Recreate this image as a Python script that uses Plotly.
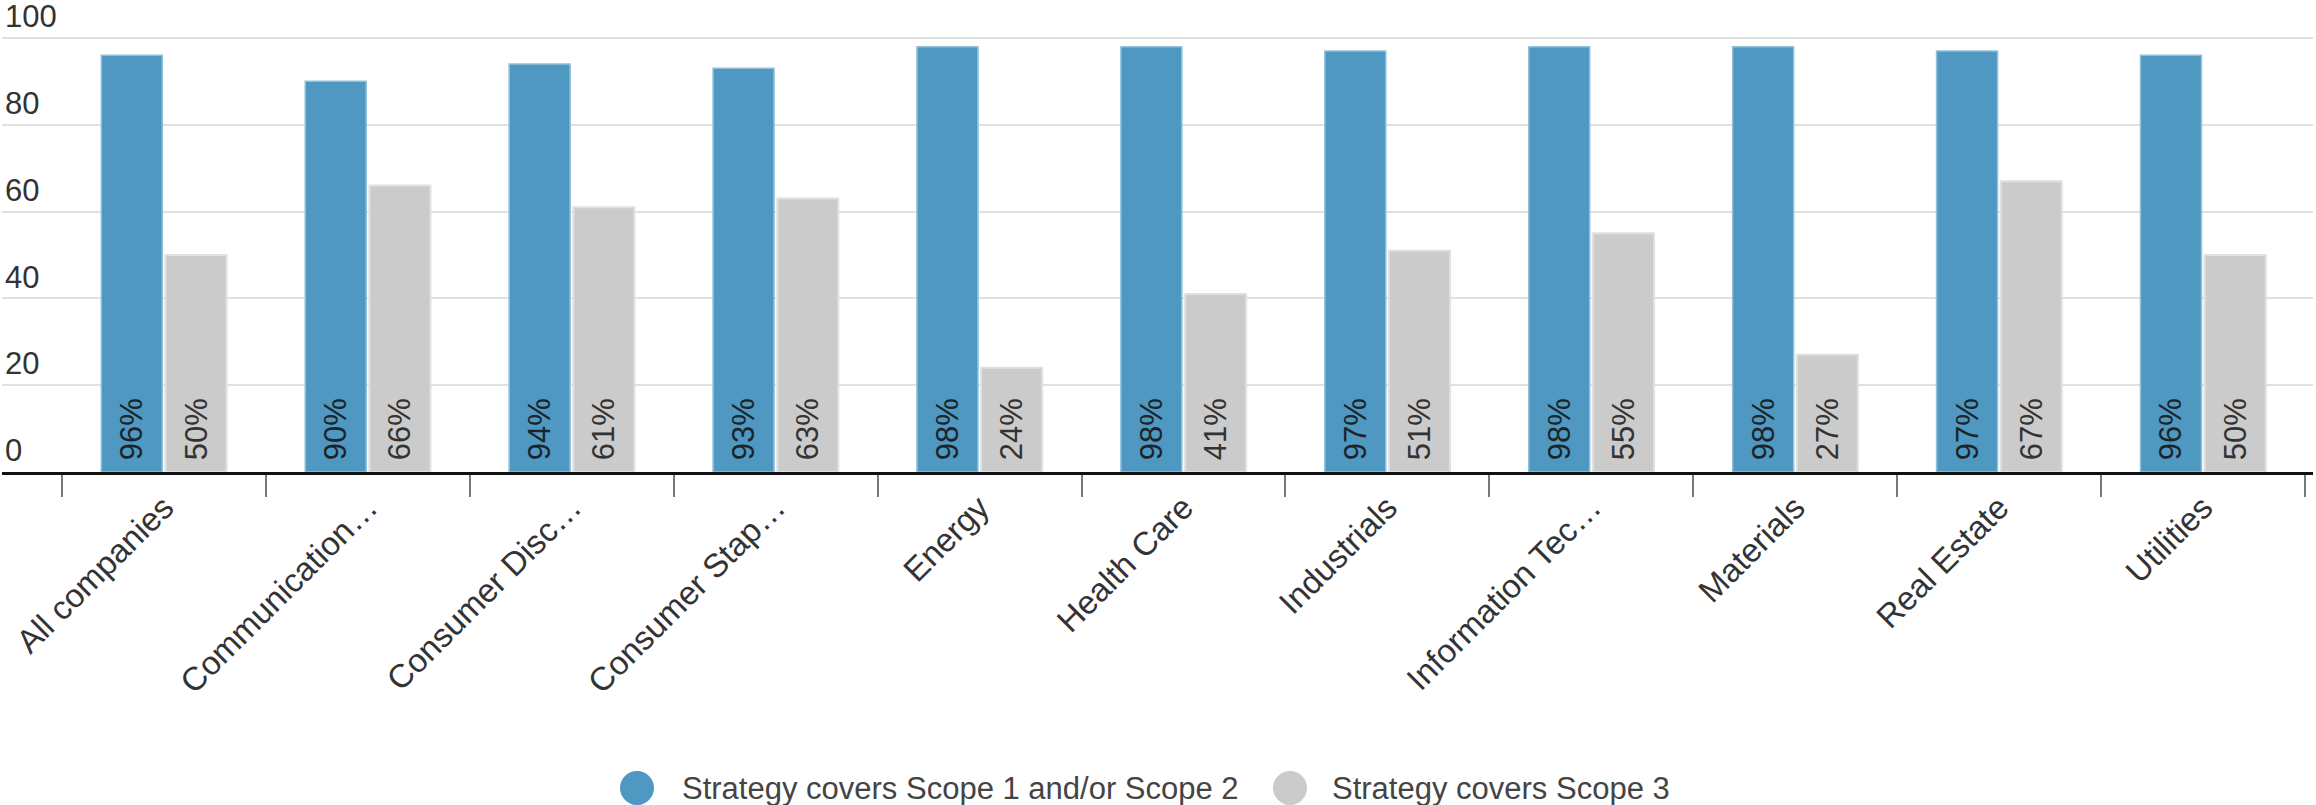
import plotly.graph_objects as go

categories = ["All companies", "Communication…", "Consumer Disc…", "Consumer Stap…",
              "Energy", "Health Care", "Industrials", "Information Tec…",
              "Materials", "Real Estate", "Utilities"]
scope12 = [96, 90, 94, 93, 98, 98, 97, 98, 98, 97, 96]
scope3 = [50, 66, 61, 63, 24, 41, 51, 55, 27, 67, 50]
series_names = ["Strategy covers Scope 1 and/or Scope 2", "Strategy covers Scope 3"]
y_ticks = [0, 20, 40, 60, 80, 100]

BLUE = "#4e98c1"
GRAY = "#cbcbcb"
FONT = "Liberation Sans, Arial, sans-serif"

W, H = 2316, 805

fig = go.Figure()
fig.add_trace(go.Bar(
    x=categories, y=scope12, name=series_names[0],
    marker=dict(color=BLUE, line=dict(color="#93c1da", width=1.5)),
    texttemplate="\u00a0%{y}%", textposition="inside", insidetextanchor="start",
    textangle=-90, textfont=dict(size=31, color="#1c2329", family=FONT),
    showlegend=False, hoverinfo="skip",
))
fig.add_trace(go.Bar(
    x=categories, y=scope3, name=series_names[1],
    marker=dict(color=GRAY, line=dict(color="#e0e0e0", width=2)),
    texttemplate="\u00a0%{y}%", textposition="inside", insidetextanchor="start",
    textangle=-90, textfont=dict(size=31, color="#333333", family=FONT),
    showlegend=False, hoverinfo="skip",
))

# custom legend drawn on an auxiliary hidden axis (large circle symbols)
legend_x = [637, 1290]
legend_text_x = [680, 1330]
legend_colors = [BLUE, GRAY]
for i in range(2):
    fig.add_trace(go.Scatter(
        x=[legend_x[i]], y=[0], mode="markers", xaxis="x2", yaxis="y2",
        marker=dict(size=34, color=legend_colors[i], line=dict(width=0)),
        showlegend=False, hoverinfo="skip",
    ))
    fig.add_annotation(
        x=legend_text_x[i], y=0, xref="x2", yref="y2", text=series_names[i],
        showarrow=False, xanchor="left", yanchor="middle",
        font=dict(size=31, color="#444444", family=FONT),
    )

fig.update_layout(
    width=W, height=H,
    margin=dict(l=2, r=3, t=0, b=0, pad=0),
    paper_bgcolor="white", plot_bgcolor="white",
    barmode="group", bargap=0.37, bargroupgap=0.05,
    font=dict(family=FONT, color="#333333"),
    showlegend=False,
    xaxis=dict(
        type="category", domain=[0, 1], anchor="y",
        range=[-0.794, 10.539],
        tickson="boundaries", ticks="outside", ticklen=22, tickwidth=2, tickcolor="#777777",
        showline=True, linecolor="#111111", linewidth=3,
        tickangle=-45, tickfont=dict(size=33, color="#333333", family=FONT),
        showgrid=False, zeroline=False,
    ),
    yaxis=dict(
        domain=[0.4137, 1], anchor="x",
        range=[0, 108.75], tickvals=y_ticks,
        showgrid=True, gridcolor="#e0e0e0", gridwidth=2,
        ticklabelposition="inside top", ticklabeloverflow="allow",
        tickfont=dict(size=31, color="#333333", family=FONT),
        zeroline=False, showline=False, ticks="",
    ),
    xaxis2=dict(domain=[0, 1], anchor="y2", range=[2, 2313], visible=False),
    yaxis2=dict(domain=[0, 0.0422], anchor="x2", range=[-1, 1], visible=False),
)

fig.write_html("out.html")
